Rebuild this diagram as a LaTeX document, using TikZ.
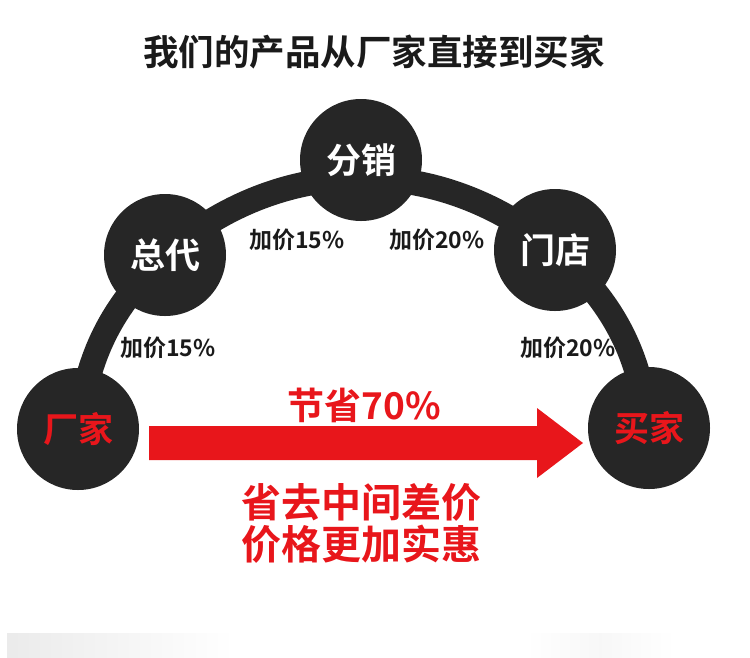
\documentclass[tikz,border=0pt]{standalone}
\usepackage{fontspec}
\setmainfont{Noto Sans CJK SC}[BoldFont={* Bold}]
\usetikzlibrary{backgrounds}
\definecolor{darkc}{HTML}{262626}
\definecolor{redc}{HTML}{E8161B}
\definecolor{titlec}{HTML}{1A1A1A}
\tikzset{
  station/.style={circle, fill=darkc, minimum size=122pt, inner sep=0pt,
    font=\fontsize{35}{40}\selectfont\bfseries, text=white},
  endstation/.style={station, text=redc},
  markup/.style={font=\fontsize{23}{26}\selectfont\bfseries, text=titlec, inner sep=0pt},
  band/.style={draw=darkc, line width=25pt},
  redtext/.style={font=\fontsize{40}{42}\selectfont\bfseries, text=redc, inner sep=0pt, align=center}
}
\begin{document}
\begin{tikzpicture}[x=1pt, y=-1pt]
\useasboundingbox (0,0) rectangle (750,657);
% bottom gray strip
\shade[left color=black!8, right color=white] (7,633) rectangle (234,657);
\shade[left color=white, right color=black!3] (526,633) rectangle (600,657);
\shade[left color=black!3, right color=white] (600,633) rectangle (675,657);
% title
\node[font=\fontsize{35.5}{38}\selectfont\bfseries, text=titlec, inner sep=0pt] (title) at (374,52) {我们的产品从厂家直接到买家};
% stations
\node[endstation] (factory) at (78,429) {厂家};
\node[station] (agent) at (165,255) {总代};
\node[station] (dist) at (361,160) {分销};
\node[station] (shop) at (555,250) {门店};
\node[endstation] (buyer) at (649,428) {买家};
% band
\begin{pgfonlayer}{background}
\draw[band] (factory.center) to[bend left=19] (agent.center)
  to[bend left=40.5] (shop.center)
  to[bend left=20] (buyer.center);
\end{pgfonlayer}
% markups
\node[markup] (m1) at (168,348) {加价15\%};
\node[markup] (m2) at (297,240) {加价15\%};
\node[markup] (m3) at (437,240) {加价20\%};
\node[markup] (m4) at (568,348) {加价20\%};
% red arrow
\coordinate (arrS) at (149,443);
\coordinate (arrE) at (583,443);
\fill[redc] (arrS) ++(0,-17) -- (537,426) -- (537,408) -- (arrE) -- (537,478) -- (537,460) -- (149,460) -- cycle;
\node[redtext, font=\fontsize{37}{40}\selectfont\bfseries] (save) at (364,405) {节省70\%};
\node[redtext] (slogan) at (361,523) {省去中间差价\\价格更加实惠};
\end{tikzpicture}
\end{document}
